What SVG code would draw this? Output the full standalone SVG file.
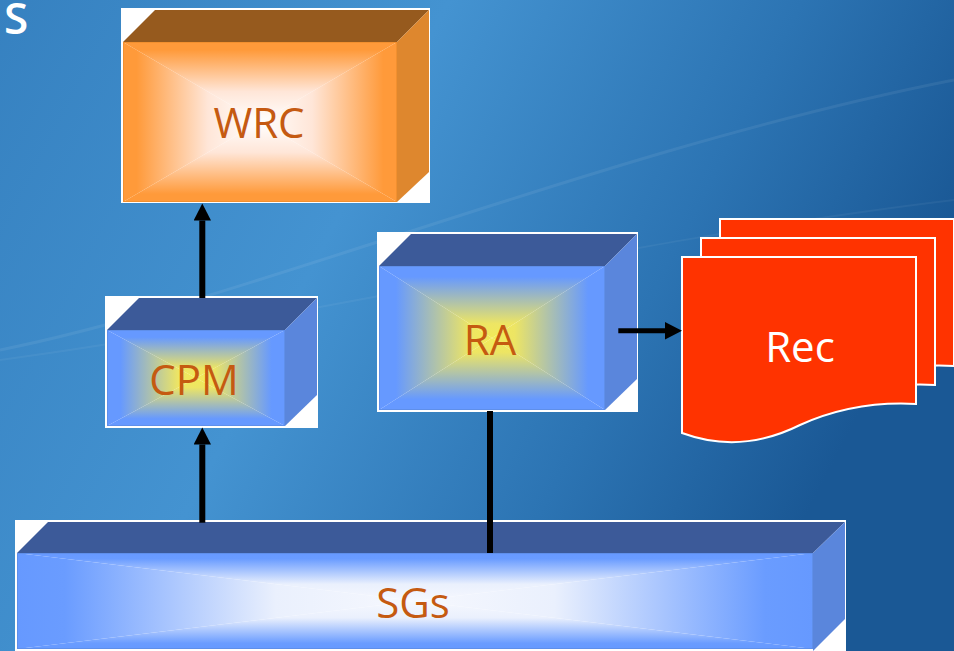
<svg xmlns="http://www.w3.org/2000/svg" width="954" height="651" viewBox="0 0 954 651">
<defs>
<linearGradient id="bg" x1="0" y1="0" x2="1" y2="0.35">
<stop offset="0" stop-color="#3681C0"/>
<stop offset="0.42" stop-color="#4493D1"/>
<stop offset="0.75" stop-color="#2C74B3"/>
<stop offset="1" stop-color="#1A5895"/>
</linearGradient>
<!-- orange -> white -->
<linearGradient id="owT" x1="0" y1="0" x2="0" y2="1"><stop offset="0" stop-color="#FF9A3A"/><stop offset="0.1" stop-color="#FF9A3A"/><stop offset="0.62" stop-color="#FFE6D8"/><stop offset="1" stop-color="#FFFFFF"/></linearGradient>
<linearGradient id="owB" x1="0" y1="1" x2="0" y2="0"><stop offset="0" stop-color="#FF9A3A"/><stop offset="0.1" stop-color="#FF9A3A"/><stop offset="0.62" stop-color="#FFE6D8"/><stop offset="1" stop-color="#FFFFFF"/></linearGradient>
<linearGradient id="owL" x1="0" y1="0" x2="1" y2="0"><stop offset="0" stop-color="#FF9A3A"/><stop offset="0.1" stop-color="#FF9A3A"/><stop offset="0.62" stop-color="#FFE6D8"/><stop offset="1" stop-color="#FFFFFF"/></linearGradient>
<linearGradient id="owR" x1="1" y1="0" x2="0" y2="0"><stop offset="0" stop-color="#FF9A3A"/><stop offset="0.1" stop-color="#FF9A3A"/><stop offset="0.62" stop-color="#FFE6D8"/><stop offset="1" stop-color="#FFFFFF"/></linearGradient>
<!-- blue -> yellow -->
<linearGradient id="byT" x1="0" y1="0" x2="0" y2="1"><stop offset="0" stop-color="#6699FF"/><stop offset="0.15" stop-color="#6699FF"/><stop offset="0.8" stop-color="#EDE564"/><stop offset="1" stop-color="#F2EA58"/></linearGradient>
<linearGradient id="byB" x1="0" y1="1" x2="0" y2="0"><stop offset="0" stop-color="#6699FF"/><stop offset="0.15" stop-color="#6699FF"/><stop offset="0.8" stop-color="#EDE564"/><stop offset="1" stop-color="#F2EA58"/></linearGradient>
<linearGradient id="byL" x1="0" y1="0" x2="1" y2="0"><stop offset="0" stop-color="#6699FF"/><stop offset="0.15" stop-color="#6699FF"/><stop offset="0.8" stop-color="#EDE564"/><stop offset="1" stop-color="#F2EA58"/></linearGradient>
<linearGradient id="byR" x1="1" y1="0" x2="0" y2="0"><stop offset="0" stop-color="#6699FF"/><stop offset="0.15" stop-color="#6699FF"/><stop offset="0.8" stop-color="#EDE564"/><stop offset="1" stop-color="#F2EA58"/></linearGradient>
<!-- blue -> white -->
<linearGradient id="bwT" x1="0" y1="0" x2="0" y2="1"><stop offset="0" stop-color="#6699FF"/><stop offset="0.12" stop-color="#6A9CFF"/><stop offset="0.65" stop-color="#EAF0FD"/><stop offset="1" stop-color="#F6F8FE"/></linearGradient>
<linearGradient id="bwB" x1="0" y1="1" x2="0" y2="0"><stop offset="0" stop-color="#6699FF"/><stop offset="0.12" stop-color="#6A9CFF"/><stop offset="0.65" stop-color="#EAF0FD"/><stop offset="1" stop-color="#F6F8FE"/></linearGradient>
<linearGradient id="bwL" x1="0" y1="0" x2="1" y2="0"><stop offset="0" stop-color="#6699FF"/><stop offset="0.12" stop-color="#6A9CFF"/><stop offset="0.65" stop-color="#EAF0FD"/><stop offset="1" stop-color="#F6F8FE"/></linearGradient>
<linearGradient id="bwR" x1="1" y1="0" x2="0" y2="0"><stop offset="0" stop-color="#6699FF"/><stop offset="0.12" stop-color="#6A9CFF"/><stop offset="0.65" stop-color="#EAF0FD"/><stop offset="1" stop-color="#F6F8FE"/></linearGradient>
<marker id="ah" markerUnits="userSpaceOnUse" markerWidth="18" markerHeight="18" refX="0" refY="8.7" orient="auto">
<path d="M0,0 L17,8.7 L0,17.4 z" fill="#000"/>
</marker>
<path id="doc" d="M682,257 H916 V404 C880,402 840,407 800,425 C760,445 720,447 682,433 Z"/>
</defs>
<style>
.lbl{font-family:"Open Sans","Liberation Sans",sans-serif;font-size:42px;text-anchor:middle}
.org{fill:#C55A11}
.wht{fill:#FFFFFF}
.bg-white{fill:#FFFFFF}
.topB{fill:#3C5A99}
.sideB{fill:#5A86DC}
.topO{fill:#965A1E}
.sideO{fill:#DE872E}
.edgeB{fill:none;stroke:#5F8FEA;stroke-width:1}
.edgeO{fill:none;stroke:#F2902F;stroke-width:1}
.doc{fill:#FF3300;stroke:#FFFFFF;stroke-width:2}
.conn{stroke:#000;stroke-width:6;fill:none}
</style>

<g id="background">
<rect x="0" y="0" width="954" height="651" fill="url(#bg)"/>
<path d="M0,350 C250,300 600,150 954,80" fill="none" stroke="#FFFFFF" stroke-opacity="0.07" stroke-width="3"/>
<path d="M0,360 C300,320 620,240 954,200" fill="none" stroke="#FFFFFF" stroke-opacity="0.05" stroke-width="2"/>
</g>

<g id="title">
<text x="4" y="34" font-family="Open Sans, Liberation Sans, sans-serif" font-size="44" font-weight="600" fill="#FFFFFF">S</text>
</g>

<g id="node-wrc">
<rect class="bg-white" x="121" y="8" width="309" height="195"/>
<polygon class="topO" points="123,42 155,10 429,10 397,42"/>
<polygon class="sideO" points="397,42 429,10 429,172 397,202"/>
<polygon fill="url(#owT)" points="123,42 397,42 260,122"/>
<polygon fill="url(#owB)" points="123,202 397,202 260,122"/>
<polygon fill="url(#owL)" points="123,42 260,122 123,202"/>
<polygon fill="url(#owR)" points="397,42 260,122 397,202"/>
<rect class="edgeO" x="123.5" y="42.5" width="273" height="159"/>
<text class="lbl org" x="259" y="138">WRC</text>
</g>

<g id="node-cpm">
<rect class="bg-white" x="105" y="296" width="213" height="132"/>
<polygon class="topB" points="107,330 139,298 317,298 285,330"/>
<polygon class="sideB" points="285,330 317,298 317,395 285,426"/>
<polygon fill="url(#byT)" points="107,330 285,330 196,378"/>
<polygon fill="url(#byB)" points="107,426 285,426 196,378"/>
<polygon fill="url(#byL)" points="107,330 196,378 107,426"/>
<polygon fill="url(#byR)" points="285,330 196,378 285,426"/>
<rect class="edgeB" x="107.5" y="330.5" width="177" height="95"/>
<text class="lbl org" x="194" y="395">CPM</text>
</g>

<g id="node-ra">
<rect class="bg-white" x="377" y="232" width="261" height="180"/>
<polygon class="topB" points="379,266 411,234 637,234 605,266"/>
<polygon class="sideB" points="605,266 637,234 637,379 605,410"/>
<polygon fill="url(#byT)" points="379,266 605,266 492,338"/>
<polygon fill="url(#byB)" points="379,410 605,410 492,338"/>
<polygon fill="url(#byL)" points="379,266 492,338 379,410"/>
<polygon fill="url(#byR)" points="605,266 492,338 605,410"/>
<rect class="edgeB" x="379.5" y="266.5" width="225" height="143"/>
<text class="lbl org" x="490" y="355">RA</text>
</g>

<g id="node-sgs">
<rect class="bg-white" x="15" y="520" width="831" height="131"/>
<polygon class="topB" points="17,553 48,522 845,522 813,553"/>
<polygon class="sideB" points="813,553 845,522 845,619 813,651"/>
<polygon fill="url(#bwT)" points="17,553 813,553 415,601"/>
<polygon fill="url(#bwB)" points="17,649 813,649 415,601"/>
<polygon fill="url(#bwL)" points="17,553 415,601 17,649"/>
<polygon fill="url(#bwR)" points="813,553 415,601 813,649"/>
<rect class="edgeB" x="17.5" y="553.5" width="795" height="95"/>
<text class="lbl org" x="413" y="618">SGs</text>
</g>

<g id="node-rec">
<use href="#doc" class="doc" transform="translate(38,-38)"/>
<use href="#doc" class="doc" transform="translate(19,-19)"/>
<use href="#doc" class="doc"/>
<text class="lbl wht" x="800" y="362">Rec</text>
</g>

<g id="connectors">
<line class="conn" x1="202.3" y1="298" x2="202.3" y2="220.5" marker-end="url(#ah)"/>
<line class="conn" x1="202.3" y1="522.7" x2="202.3" y2="444.5" marker-end="url(#ah)"/>
<line class="conn" x1="490" y1="411" x2="490" y2="553"/>
<line class="conn" style="stroke-width:5" x1="618.3" y1="330.8" x2="665" y2="330.8" marker-end="url(#ah)"/>
</g>
</svg>
